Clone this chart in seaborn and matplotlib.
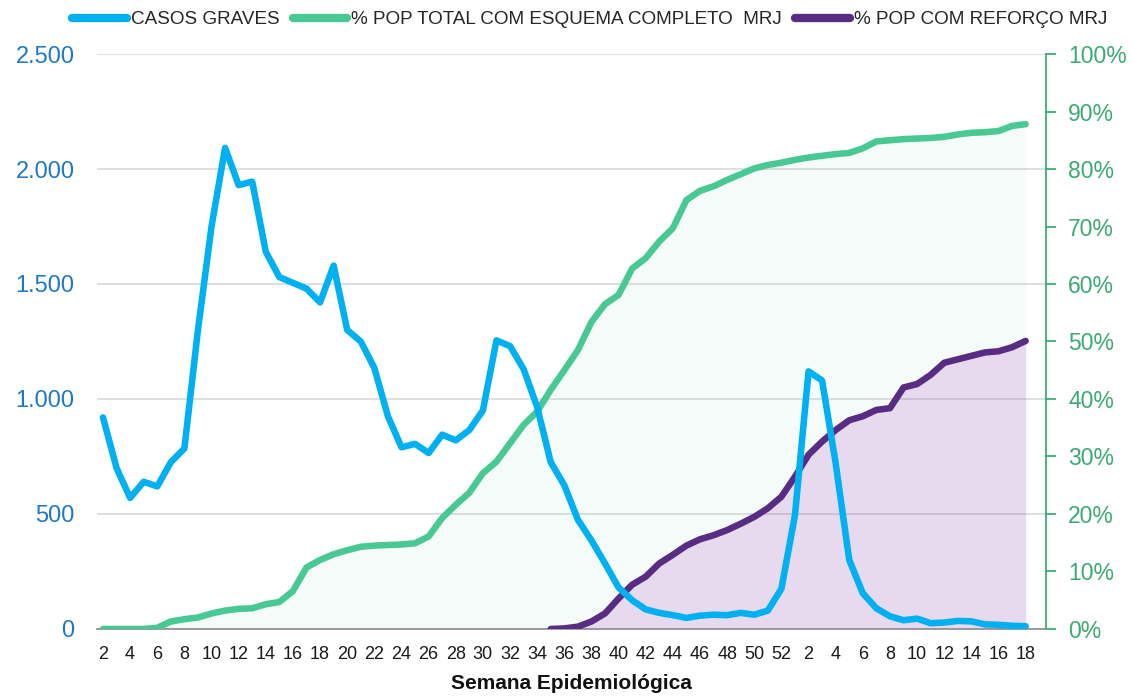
import numpy as np
import pandas as pd
import matplotlib
matplotlib.use("Agg")
import matplotlib.pyplot as plt
from matplotlib.lines import Line2D
from matplotlib.ticker import FuncFormatter, MultipleLocator, FixedLocator
import seaborn as sns

# Epidemiological weeks: 2021 (weeks 2-52) followed by 2022 (weeks 1-18)
weeks = list(range(2, 53)) + list(range(1, 19))

casos_graves = [
    920, 700, 570, 640, 620, 725, 785, 1300, 1750, 2092,
    1930, 1945, 1640, 1530, 1505, 1480, 1420, 1580, 1300, 1250,
    1135, 925, 790, 805, 765, 845, 820, 865, 950, 1255,
    1230, 1130, 965, 725, 625, 475, 385, 285, 180, 125,
    85, 70, 60, 48, 58, 62, 60, 70, 62, 80,
    175, 495, 1120, 1080, 720, 300, 155, 90, 55, 38,
    45, 25, 28, 35, 33, 20, 18, 14, 12,
]

pct_esquema_completo = [
    0.0, 0.0, 0.0, 0.0, 0.2, 1.3, 1.7, 2.0, 2.7, 3.2,
    3.5, 3.6, 4.3, 4.7, 6.6, 10.7, 12.0, 13.0, 13.7, 14.3,
    14.5, 14.6, 14.7, 14.9, 16.1, 19.3, 21.6, 23.7, 27.1, 29.1,
    32.3, 35.5, 37.8, 41.6, 45.0, 48.5, 53.4, 56.5, 58.1, 62.7,
    64.5, 67.4, 69.7, 74.6, 76.2, 77.0, 78.1, 79.1, 80.1, 80.7,
    81.1, 81.6, 82.0, 82.3, 82.6, 82.8, 83.6, 84.8, 85.0, 85.2,
    85.3, 85.4, 85.6, 86.0, 86.3, 86.4, 86.6, 87.5, 87.8,
]

# Booster coverage starts at week 35 of 2021
reforco_inicio = 33
pct_reforco = [
    0.0, 0.1, 0.4, 1.3, 2.7, 5.3, 7.7, 9.1, 11.4, 12.9,
    14.5, 15.6, 16.3, 17.2, 18.3, 19.5, 21.0, 23.0, 26.5, 30.3,
    32.6, 34.6, 36.3, 37.0, 38.1, 38.4, 42.0, 42.6, 44.2, 46.3,
    46.9, 47.5, 48.1, 48.3, 49.0, 50.1,
]

labels = ["CASOS GRAVES", "% POP TOTAL COM ESQUEMA COMPLETO  MRJ", "% POP COM REFORÇO MRJ"]

C_BLUE = "#00B0F0"
C_GREEN = "#48C994"
C_PURPLE = "#582C83"
C_LEFT_TXT = "#1F78C4"
C_RIGHT_TXT = "#3BAA72"
C_RIGHT_SPINE = "#2DA56B"

sns.set_theme(style="white")
plt.rcParams["font.family"] = ["Liberation Sans", "DejaVu Sans"]

pos = np.arange(len(weeks))
df = pd.DataFrame({"pos": pos, "casos": casos_graves, "completo": pct_esquema_completo})
df_ref = pd.DataFrame({"pos": pos[reforco_inicio:reforco_inicio + len(pct_reforco)],
                       "reforco": pct_reforco})

fig = plt.figure(figsize=(11.34, 6.97), dpi=100)
ax = fig.add_axes([0.0853, 0.0976, 0.9224 - 0.0853, 0.9225 - 0.0976])  # percentage axis (right)
ax2 = ax.twinx()                                                         # cases axis (left)

lw = 4.7
# Shaded coverage areas
ax.fill_between(df["pos"], 0, df["completo"], color=C_GREEN, alpha=0.06, linewidth=0, zorder=1)
ax.fill_between(df_ref["pos"], 0, df_ref["reforco"], color="#A020C0", alpha=0.15, linewidth=0, zorder=1.1)

sns.lineplot(data=df, x="pos", y="completo", ax=ax, color=C_GREEN, linewidth=lw,
             solid_capstyle="round", solid_joinstyle="round", legend=False, zorder=3)
sns.lineplot(data=df_ref, x="pos", y="reforco", ax=ax, color=C_PURPLE, linewidth=lw,
             solid_capstyle="round", solid_joinstyle="round", legend=False, zorder=3)
sns.lineplot(data=df, x="pos", y="casos", ax=ax2, color=C_BLUE, linewidth=lw,
             solid_capstyle="round", solid_joinstyle="round", legend=False, zorder=3)

# X axis
ax.set_xlim(-0.46, 69.5)
ax.xaxis.set_major_locator(FixedLocator(np.arange(0, 70)))
ax.set_xticklabels([str(weeks[i]) if (i < len(weeks) and i % 2 == 0) else "" for i in range(70)])
ax.tick_params(axis="x", direction="inout", length=8, width=1, color="#8C8C8C",
               labelsize=13, labelcolor="#1A1A1A", pad=8)
ax.set_xlabel("Semana Epidemiológica", fontsize=15, fontweight="bold", color="#111111", labelpad=8)

# Right (percentage) axis
ax.set_ylim(0, 100)
ax.yaxis.tick_right()
ax.yaxis.set_major_locator(MultipleLocator(20))
ax.yaxis.set_minor_locator(MultipleLocator(10))
pct_fmt = FuncFormatter(lambda v, p: f"{v:.0f}%")
ax.yaxis.set_major_formatter(pct_fmt)
ax.yaxis.set_minor_formatter(pct_fmt)
ax.tick_params(axis="y", which="both", direction="out", length=7, width=1.2,
               color=C_RIGHT_SPINE, labelsize=16.5, labelcolor=C_RIGHT_TXT, pad=9,
               left=False, right=True)
ax.set_ylabel("")
ax.grid(axis="y", which="major", color="#D9D9D9", linewidth=1.2)
ax.grid(axis="x", visible=False)
ax.set_axisbelow(True)

for s in ("left", "top"):
    ax.spines[s].set_visible(False)
ax.spines["right"].set_color(C_RIGHT_SPINE)
ax.spines["right"].set_linewidth(1.2)
ax.spines["bottom"].set_color("#8C8C8C")
ax.spines["bottom"].set_linewidth(1.2)

# Left (cases) axis
ax2.set_ylim(0, 2500)
ax2.yaxis.tick_left()
ax2.yaxis.set_major_locator(MultipleLocator(500))
ax2.yaxis.set_major_formatter(FuncFormatter(lambda v, p: f"{v:,.0f}".replace(",", ".")))
ax2.tick_params(axis="y", length=0, labelsize=17, labelcolor=C_LEFT_TXT, pad=16,
                left=True, right=False, labelleft=True, labelright=False)
ax2.set_ylabel("")
ax2.grid(False)
for s in ax2.spines.values():
    s.set_visible(False)

# Legend
handles = [Line2D([], [], color=c, linewidth=6, solid_capstyle="round")
           for c in (C_BLUE, C_GREEN, C_PURPLE)]
fig.legend(handles, labels, loc="center", bbox_to_anchor=(0.52, 0.972), ncol=3,
           frameon=False, handlelength=2.9, handletextpad=0.2, columnspacing=0.7,
           prop={"family": ["Liberation Sans", "DejaVu Sans"], "size": 13.6})

fig.savefig("out.png", dpi=100)
